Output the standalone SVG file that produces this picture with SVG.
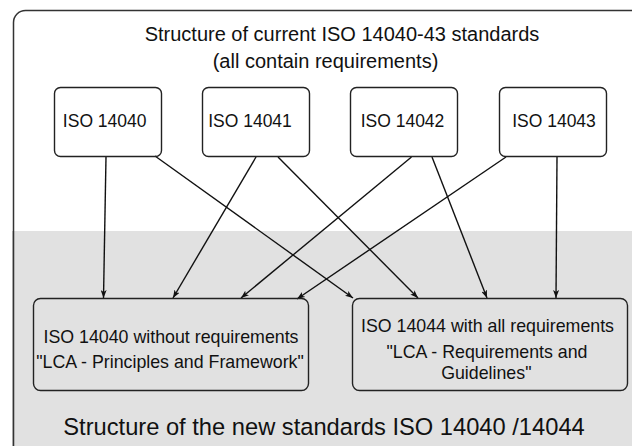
<svg xmlns="http://www.w3.org/2000/svg" width="632" height="446" viewBox="0 0 632 446">
<style>
  .frame{fill:#ffffff;stroke:#333333;stroke-width:1.5}
  .box{fill:none;stroke:#222222;stroke-width:1.4}
  .t{font-family:"Liberation Sans",Arial,Helvetica,sans-serif;fill:#111111;text-anchor:middle}
  .edge{stroke:#111111;stroke-width:1.4;fill:none;marker-end:url(#arr)}
</style>
<defs>
  <marker id="arr" viewBox="0 0 8 6" markerWidth="8" markerHeight="6" refX="8" refY="3" orient="auto" markerUnits="userSpaceOnUse">
    <path d="M0,0 L8,3 L0,6 L2,3 Z" fill="#111111"/>
  </marker>
</defs>
<rect width="632" height="446" fill="#ffffff"/>
<g id="frame">
  <rect class="frame" x="13.5" y="10.5" width="660" height="448" rx="12"/>
  <path d="M14.2,231 H640 V458 H26 A12,12 0 0 1 14.2,446 Z" fill="#e1e1e1"/>
  <path d="M13.5,231 V446.5" stroke="#333333" stroke-width="1.5" fill="none"/>
  <text class="t" x="342" y="41" font-size="20">Structure of current ISO 14040-43 standards</text>
  <text class="t" x="325.5" y="68" font-size="20">(all contain requirements)</text>
  <text class="t" x="324" y="435" font-size="23.7">Structure of the new standards ISO 14040 /14044</text>
</g>
<g id="connectors">
  <line class="edge" x1="106" y1="157" x2="103.5" y2="298"/>
  <line class="edge" x1="155" y1="156" x2="353" y2="298"/>
  <line class="edge" x1="256" y1="157" x2="173" y2="298"/>
  <line class="edge" x1="278" y1="157" x2="418" y2="298"/>
  <line class="edge" x1="411.5" y1="157" x2="241" y2="298"/>
  <line class="edge" x1="432" y1="157" x2="487" y2="298"/>
  <line class="edge" x1="506" y1="157" x2="297" y2="299"/>
  <line class="edge" x1="557" y1="157" x2="556" y2="298"/>
</g>
<g id="iso14040">
  <rect class="box" x="54.5" y="87.5" width="107" height="69" rx="6"/>
  <text class="t" x="104.7" y="127" font-size="17.5">ISO 14040</text>
</g>
<g id="iso14041">
  <rect class="box" x="202.5" y="87.5" width="107" height="69" rx="6"/>
  <text class="t" x="250" y="127" font-size="17.5">ISO 14041</text>
</g>
<g id="iso14042">
  <rect class="box" x="350.5" y="87.5" width="107" height="69" rx="6"/>
  <text class="t" x="402.5" y="127" font-size="17.5">ISO 14042</text>
</g>
<g id="iso14043">
  <rect class="box" x="499.5" y="87.5" width="107" height="69" rx="6"/>
  <text class="t" x="554" y="127" font-size="17.5">ISO 14043</text>
</g>
<g id="new14040">
  <rect class="box" x="33.5" y="298.5" width="275" height="92" rx="7"/>
  <text class="t" x="171" y="343" font-size="17.8">ISO 14040 without requirements</text>
  <text class="t" x="170" y="368" font-size="17.8">"LCA - Principles and Framework"</text>
</g>
<g id="new14044">
  <rect class="box" x="352.5" y="298.5" width="275" height="92" rx="7"/>
  <text class="t" x="487.5" y="332" font-size="17.8">ISO 14044 with all requirements</text>
  <text class="t" x="487" y="358" font-size="17.8">"LCA - Requirements and</text>
  <text class="t" x="486.3" y="379" font-size="17.8">Guidelines"</text>
</g>
</svg>
